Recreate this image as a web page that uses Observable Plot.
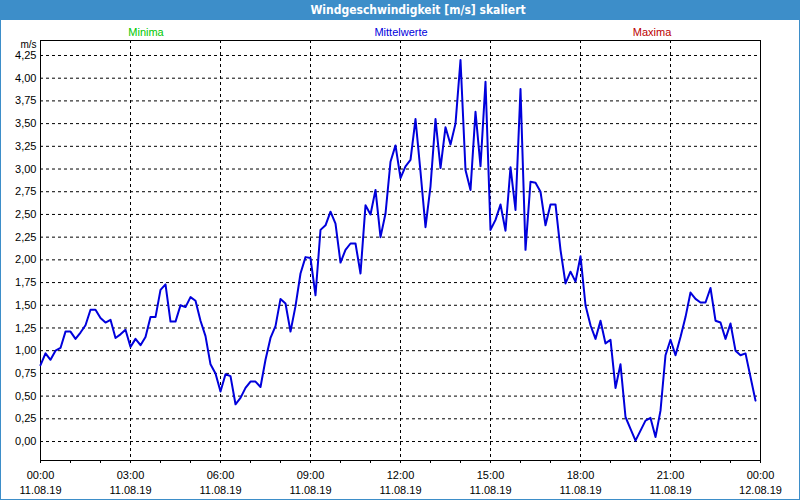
<!DOCTYPE html>
<html>
<head>
<meta charset="utf-8">
<script src="https://cdn.jsdelivr.net/npm/d3@7"></script>
<script src="https://cdn.jsdelivr.net/npm/@observablehq/plot@0.6"></script>
<style>
  html, body { margin: 0; padding: 0; background: #fff; }
  #wrap { position: relative; width: 800px; height: 500px; background: #fff; box-shadow: inset 0 0 0 1px #3d8ec9; overflow: hidden; font-family: "Liberation Sans", Arial, sans-serif; }
  #titlebar { position: absolute; left: 0; top: 0; width: 800px; height: 20px; background: #3d8ec9; }
  .lbl { position: absolute; transform: translate(-50%, -50%); white-space: nowrap; font-size: 11px; }
  #title { position: absolute; left: 18px; width: 800px; top: 3px; text-align: center; color: #fff; font-weight: bold; font-size: 12px; font-family: "DejaVu Sans Condensed", "DejaVu Sans", sans-serif; line-height: 14px; }
  #chart { position: absolute; left: 0; top: 20px; }
</style>
</head>
<body>
<div id="wrap">
  <div id="titlebar"></div>
  <div id="title"></div>
  <div id="legend"></div>
  <div id="chart"></div>
</div>
<script>
// ---- data ----
const chartTitle = "Windgeschwindigkeit [m/s] skaliert";
const seriesNames = ["Minima", "Mittelwerte", "Maxima"];
const seriesColors = ["#00c800", "#0000dc", "#bb0000"];
const seriesLabelX = [146, 401, 652];
const unitLabel = "m/s";
const intervalHours = 1 / 6; // 10-minute values starting 11.08.19 00:00
const meanSpeed = [
  0.84, 0.97, 0.90, 1.00, 1.03, 1.21, 1.21, 1.13, 1.20, 1.28,
  1.45, 1.45, 1.36, 1.31, 1.34, 1.14, 1.18, 1.23, 1.04, 1.13,
  1.06, 1.15, 1.37, 1.37, 1.67, 1.73, 1.32, 1.32, 1.50, 1.48,
  1.59, 1.55, 1.33, 1.16, 0.85, 0.75, 0.55, 0.74, 0.72, 0.41,
  0.48, 0.59, 0.66, 0.66, 0.60, 0.90, 1.14, 1.27, 1.57, 1.52,
  1.21, 1.49, 1.85, 2.03, 2.02, 1.61, 2.33, 2.38, 2.53, 2.40,
  1.97, 2.11, 2.18, 2.18, 1.85, 2.60, 2.50, 2.77, 2.25, 2.51,
  3.08, 3.26, 2.90, 3.03, 3.10, 3.55, 2.97, 2.36, 2.81, 3.55,
  3.01, 3.46, 3.27, 3.50, 4.20, 2.99, 2.77, 3.63, 3.03, 3.96,
  2.33, 2.44, 2.61, 2.32, 3.02, 2.55, 3.88, 2.11, 2.86, 2.85,
  2.75, 2.38, 2.61, 2.61, 2.11, 1.74, 1.87, 1.76, 2.04, 1.50,
  1.28, 1.13, 1.33, 1.08, 1.12, 0.59, 0.85, 0.27, 0.14, 0.01,
  0.12, 0.23, 0.26, 0.05, 0.34, 0.95, 1.12, 0.95, 1.15, 1.37,
  1.64, 1.57, 1.53, 1.53, 1.69, 1.33, 1.31, 1.13, 1.30, 1.00,
  0.95, 0.97, 0.71, 0.45
];
const yTicks = [0, 0.25, 0.5, 0.75, 1, 1.25, 1.5, 1.75, 2, 2.25, 2.5, 2.75, 3, 3.25, 3.5, 3.75, 4, 4.25];
const xMajorTicks = [0, 3, 6, 9, 12, 15, 18, 21, 24];
const xMajorLabels = [
  "00:00\n11.08.19", "03:00\n11.08.19", "06:00\n11.08.19", "09:00\n11.08.19",
  "12:00\n11.08.19", "15:00\n11.08.19", "18:00\n11.08.19", "21:00\n11.08.19",
  "00:00\n12.08.19"
];
const xMinorTicks = d3.range(0, 25, 1);
const xGridTicks = [3, 6, 9, 12, 15, 18, 21];

// ---- title & legend (HTML) ----
document.getElementById("title").textContent = chartTitle;
const legend = document.getElementById("legend");
seriesNames.forEach((n, i) => {
  const s = document.createElement("div");
  s.className = "lbl";
  s.textContent = n;
  s.style.left = seriesLabelX[i] + "px";
  s.style.top = "32px";
  s.style.color = seriesColors[i];
  legend.appendChild(s);
});

const data = meanSpeed.map((v, i) => ({t: i * intervalHours, v}));
const labelOf = new Map(xMajorTicks.map((t, i) => [t, xMajorLabels[i]]));

const chart = Plot.plot({
  width: 800,
  height: 480,
  marginTop: 20,
  marginBottom: 40,
  marginLeft: 40,
  marginRight: 40,
  style: {background: "transparent", fontFamily: "'Liberation Sans', Arial, sans-serif", fontSize: "11px", color: "#000"},
  x: {domain: [0, 24]},
  y: {domain: [-0.209, 4.415]},
  marks: [
    Plot.gridY(yTicks, {stroke: "#000", strokeOpacity: 1, strokeDasharray: "3,3"}),
    Plot.gridX(xGridTicks, {stroke: "#000", strokeOpacity: 1, strokeDasharray: "3,3"}),
    Plot.axisY(yTicks, {tickSize: 0, tickPadding: 4, label: null, tickFormat: d => d.toFixed(2).replace(".", ",")}),
    Plot.axisX(xMinorTicks, {tickSize: 3, tickFormat: () => "", label: null}),
    Plot.axisX(xMajorTicks, {tickSize: 3, tickPadding: 5, label: null, lineHeight: 1.36, tickFormat: d => labelOf.get(d)}),
    Plot.frame({stroke: "#000", strokeWidth: 1}),
    Plot.line(data, {x: "t", y: "v", stroke: seriesColors[1], strokeWidth: 2}),
    Plot.text([unitLabel], {frameAnchor: "top-left", textAnchor: "end", lineAnchor: "bottom", dx: -4, dy: 7, fontSize: 10, fill: "#000"})
  ]
});
document.getElementById("chart").appendChild(chart);
</script>
</body>
</html>
